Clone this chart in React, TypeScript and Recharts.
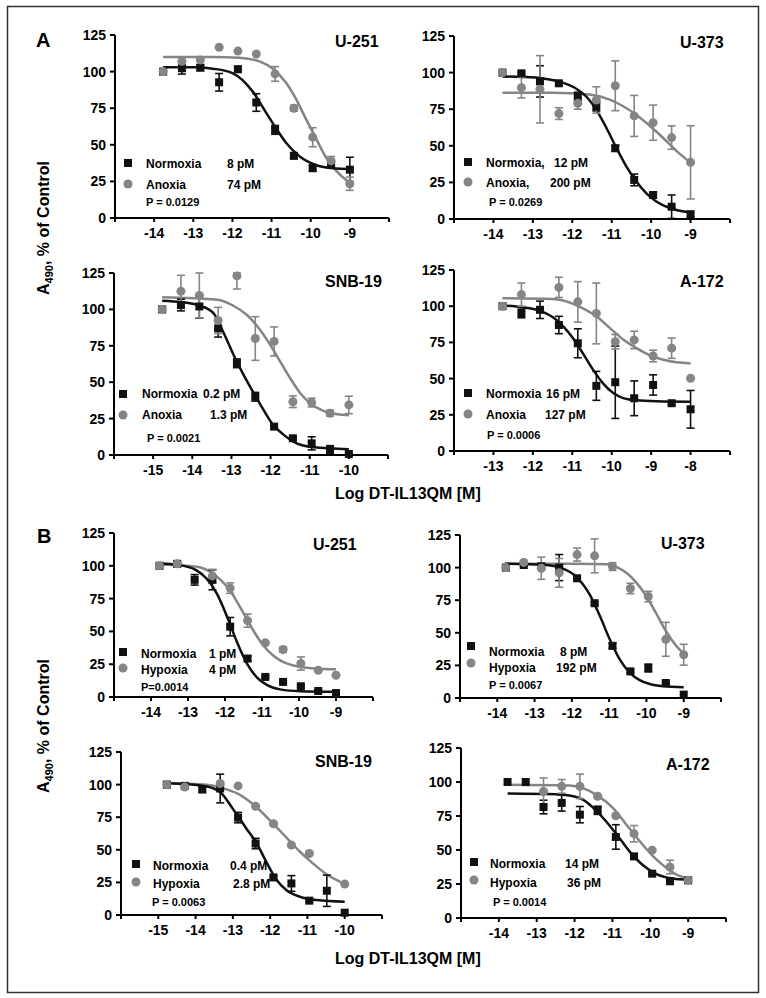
import React from 'react';
import { ComposedChart, Line, Scatter, XAxis, YAxis, ErrorBar } from 'recharts';

const FONT = '"Liberation Sans", Arial, Helvetica, sans-serif';
const BLACK = '#111111';
const GRAY = '#858585';

// ---------- doses (log M) ----------
const dosesU = [-13.77, -13.29, -12.82, -12.34, -11.86, -11.39, -10.91, -10.43, -9.95, -9.48, -9.0];
const dosesSNB = [-14.77, -14.29, -13.82, -13.34, -12.86, -12.39, -11.91, -11.43, -10.95, -10.48, -10.0];
const dosesA172A = [-12.77, -12.29, -11.82, -11.34, -10.86, -10.39, -9.91, -9.43, -8.95, -8.48, -8.0];

const yTicks = [0, 25, 50, 75, 100, 125];

// ---------- A : U-251 ----------
const aU251_norm = [100, 102.3, 102.7, 92.7, 101.6, 78.9, 60.2, 42.5, 34, 37, 33];
const aU251_normErr = [0, 4, 2, 6, 2, 6, 3, 2, 2, 2, 8.5];
const aU251_oth = [100, 107, 108, 116.6, 114, 112, 98.4, 75, 55.2, 39, 23.4];
const aU251_othErr = [0, 0, 0, 0, 0, 0, 5, 2, 6.5, 3, 4.5];
const aU251_normFitX = [-13.77, -13, -12.5, -12, -11.5, -11.14, -10.88, -10.62, -10.28, -9.85, -9.43, -9];
const aU251_normFitY = [103, 103, 102, 99, 87, 72, 61, 51, 42, 36, 34, 33.5];
const aU251_othFitX = [-13.77, -12.5, -11.82, -11.31, -10.97, -10.62, -10.37, -10.11, -9.85, -9.6, -9.34, -9];
const aU251_othFitY = [110, 110, 109.5, 107, 102, 92, 81, 67, 53.5, 41, 32, 24];

// ---------- A : U-373 ----------
const aU373_norm = [100, 99.5, 94, 92.7, 83.6, 76.8, 48.3, 26.7, 16.4, 8.4, 3.2];
const aU373_normErr = [0, 1, 10.7, 1, 3, 3, 2, 4, 2, 8, 2];
const aU373_oth = [100, 89.7, 88.6, 72, 79, 81.3, 91, 70.4, 65.8, 55.6, 38.7];
const aU373_othErr = [0, 7, 23, 4, 4, 9, 17, 14, 12, 8, 25];
const aU373_normFitX = [-13.77, -13.25, -12.74, -12.23, -11.9, -11.64, -11.39, -11.13, -10.88, -10.63, -10.37, -10.12, -9.87, -9.53, -9];
const aU373_normFitY = [97.3, 97, 96, 93, 89, 83.5, 74.5, 62, 48.5, 36, 25.5, 17.5, 12, 7.5, 4.5];
const aU373_othFitX = [-13.77, -12.5, -11.56, -11.05, -10.71, -10.37, -10.03, -9.7, -9.36, -9];
const aU373_othFitY = [86.3, 86.3, 85, 81.5, 77, 71, 63.5, 55.5, 46.5, 38.5];

// ---------- A : SNB-19 ----------
const aSNB_norm = [100, 103, 102, 87, 63, 40, 19.5, 11.5, 8, 3.4, 0.7];
const aSNB_normErr = [0, 4, 8, 6, 3, 3, 1, 1, 4.5, 3, 0.5];
const aSNB_oth = [100, 112.4, 109.6, 92.4, 123, 80, 78, 36.6, 36, 28.7, 34.4];
const aSNB_othErr: (number | number[])[] = [0, 11, 15.4, 9, [9, 2], 15, 10, 4, 3, 2, 6];
const aSNB_normFitX = [-14.77, -14.27, -13.8, -13.46, -13.2, -12.95, -12.69, -12.44, -12.18, -11.93, -11.67, -11.42, -10.9, -10];
const aSNB_normFitY = [106, 105, 102.5, 97.5, 84, 69, 55, 43, 31, 20.5, 14, 9.2, 5.3, 4];
const aSNB_othFitX = [-14.77, -13.37, -12.95, -12.61, -12.27, -12.01, -11.75, -11.5, -11.24, -10.99, -10.65, -10.3, -10];
const aSNB_othFitY = [108.3, 106.6, 102.5, 96.3, 86, 75.7, 64, 52.8, 42.4, 35.6, 30.3, 28, 27.3];

// ---------- A : A-172 ----------
const aA172_norm = [100, 95, 97.5, 87, 74.4, 45, 47.5, 36.4, 45.6, 33, 28.8];
const aA172_normErr = [0, 3, 6, 6, 10, 10, 25, 12, 7, 1, 13];
const aA172_oth = [100, 108, null, 113, 103, 95, 75.5, 76.7, 65.6, 71, 50.2];
const aA172_othErr = [0, 8, 0, 7, 14, 21, 5, 6, 4, 7, 0];
const aA172_normFitX = [-12.77, -12.27, -11.76, -11.49, -11.23, -10.98, -10.73, -10.47, -10.22, -9.96, -9.71, -9.37, -8.87, -8];
const aA172_normFitY = [100.5, 99.3, 96.3, 92.3, 86, 77.8, 67.4, 56, 46.7, 40, 36.5, 35, 34.3, 34];
const aA172_othFitX = [-12.77, -11.5, -11.23, -10.73, -10.39, -10.05, -9.71, -9.37, -9.03, -8.61, -8];
const aA172_othFitY = [105.5, 105, 104, 98.5, 93, 85, 77, 71, 66, 62.5, 60.5];

// ---------- B : U-251 ----------
const bU251_norm = [100, 101.5, 89.3, 89.3, 53.6, 29.3, 15.3, 11.5, 8.2, 4.6, 3];
const bU251_normErr = [0, 1, 4, 7.6, 7, 2, 1, 1, 1, 1, 1];
const bU251_oth = [100, 101.5, null, 92.3, 83, 58.2, 41.3, 36.2, 25.5, 20.4, 16.6];
const bU251_othErr = [0, 0, 0, 5, 4, 5, 1, 2, 5, 1, 0];
const bU251_normFitX = [-13.77, -13.26, -12.77, -12.5, -12.22, -11.95, -11.68, -11.41, -11.14, -10.87, -10.51, -9.97, -9];
const bU251_normFitY = [101.7, 100.7, 96.5, 90.3, 78.8, 61.7, 42.1, 25.7, 15, 9.2, 5.8, 4.4, 4];
const bU251_othFitX = [-13.77, -12.77, -12.32, -11.86, -11.5, -11.23, -10.96, -10.69, -10.42, -10.15, -9.79, -9.43, -9];
const bU251_othFitY = [101, 99.3, 94, 81, 64, 50.5, 39, 31.5, 26.5, 24, 22.3, 21.6, 21.2];

// ---------- B : U-373 ----------
const bU373_norm = [100, 102, 101, 100, 91.8, 72.7, 40, 20.4, 23, 11.5, 2.6];
const bU373_normErr = [0, 1, 0, 10, 1, 1, 2, 1, 3, 1, 0];
const bU373_oth = [100, 104, 99.5, 96, 110, 109, 100.8, 84, 77.8, 45, 33.2];
const bU373_othErr = [0, 1, 8.5, 11, 5, 13, 3, 4, 4, 13, 8];
const bU373_normFitX = [-13.8, -12.77, -12.24, -11.88, -11.52, -11.25, -10.99, -10.72, -10.45, -10.18, -9.91, -9.56, -9];
const bU373_normFitY = [103, 102.2, 99.2, 92.9, 79.2, 63, 45.4, 29.8, 19.5, 13.7, 10.7, 9, 8.2];
const bU373_othFitX = [-13.8, -12, -10.99, -10.81, -10.54, -10.27, -10, -9.74, -9.47, -9.2, -9];
const bU373_othFitY = [103, 103, 102.5, 100.5, 96, 88.5, 78, 65, 51, 40, 34];

// ---------- B : SNB-19 ----------
const bSNB_norm = [100, 99, 96.2, 97, 74.7, 54.8, 28.8, 24.2, 11, 18.6, 1.8];
const bSNB_normErr = [0, 0, 2, 11, 4, 4, 1, 6, 1, 12, 0];
const bSNB_oth = [100, 98.2, null, 100.8, 99, 83.4, 70, 53.6, 47.2, null, 23.7];
const bSNB_othErr = [0, 0, 0, 1, 0, 1, 1, 1, 1, 0, 0];
const bSNB_normFitX = [-14.77, -13.77, -13.35, -12.99, -12.63, -12.36, -12.09, -11.83, -11.56, -11.2, -10.75, -10];
const bSNB_normFitY = [101, 99, 94.5, 81, 66, 55, 40, 27, 19, 14, 11.5, 10.2];
const bSNB_othFitX = [-14.77, -13.77, -13.3, -12.87, -12.38, -11.87, -11.55, -11.2, -10.87, -10.5, -10.2, -10];
const bSNB_othFitY = [101, 100, 97.5, 93, 83, 68.5, 59, 48.5, 40, 31.5, 26.5, 24];

// ---------- B : A-172 ----------
const bA172_norm = [100, 100, 81.6, 84.6, 76, 79.2, 59.6, 45.3, 32.6, 27, 27.7];
const bA172_normErr = [0, 0, 5, 6, 6, 3, 9, 1, 1, 1, 1];
const bA172_oth = [null, null, 93, 96.8, 96.8, 89.5, 75.2, 62, 49.8, 37.5, 27.7];
const bA172_othErr = [0, 0, 10, 5, 9, 1, 1, 6, 1, 5, 0];
const bA172_normFitX = [-13.77, -12.5, -12.13, -11.78, -11.43, -10.9, -10.55, -10.2, -9.85, -9.41, -9];
const bA172_normFitY = [91.5, 91, 90, 87, 79, 62, 49, 39, 32.5, 29, 28];
const bA172_othFitX = [-13.77, -12.13, -11.78, -11.39, -10.99, -10.64, -10.28, -9.93, -9.58, -9.23, -9];
const bA172_othFitY = [98, 97.5, 95.5, 90, 81, 69, 56.5, 45.5, 37, 31, 29];

type Err = number | number[];
type PanelDef = {
  L: number; R: number; T: number; B: number; xLo: number; xHi: number;
  doses: number[];
  norm: (number | null)[]; normErr: Err[];
  oth: (number | null)[]; othErr: Err[];
  nfx: number[]; nfy: number[]; ofx: number[]; ofy: number[];
};

const panels: PanelDef[] = [
  { L: 115, R: 389, T: 35, B: 218, xLo: -15, xHi: -8, doses: dosesU, norm: aU251_norm, normErr: aU251_normErr, oth: aU251_oth, othErr: aU251_othErr, nfx: aU251_normFitX, nfy: aU251_normFitY, ofx: aU251_othFitX, ofy: aU251_othFitY },
  { L: 454, R: 730, T: 36, B: 219, xLo: -15, xHi: -8, doses: dosesU, norm: aU373_norm, normErr: aU373_normErr, oth: aU373_oth, othErr: aU373_othErr, nfx: aU373_normFitX, nfy: aU373_normFitY, ofx: aU373_othFitX, ofy: aU373_othFitY },
  { L: 114, R: 388, T: 273, B: 455, xLo: -16, xHi: -9, doses: dosesSNB, norm: aSNB_norm, normErr: aSNB_normErr, oth: aSNB_oth, othErr: aSNB_othErr, nfx: aSNB_normFitX, nfy: aSNB_normFitY, ofx: aSNB_othFitX, ofy: aSNB_othFitY },
  { L: 454, R: 730, T: 270, B: 451, xLo: -14, xHi: -7, doses: dosesA172A, norm: aA172_norm, normErr: aA172_normErr, oth: aA172_oth, othErr: aA172_othErr, nfx: aA172_normFitX, nfy: aA172_normFitY, ofx: aA172_othFitX, ofy: aA172_othFitY },
  { L: 114, R: 373, T: 533, B: 697, xLo: -15, xHi: -8, doses: dosesU, norm: bU251_norm, normErr: bU251_normErr, oth: bU251_oth, othErr: bU251_othErr, nfx: bU251_normFitX, nfy: bU251_normFitY, ofx: bU251_othFitX, ofy: bU251_othFitY },
  { L: 460, R: 721, T: 535, B: 698, xLo: -15, xHi: -8, doses: dosesU, norm: bU373_norm, normErr: bU373_normErr, oth: bU373_oth, othErr: bU373_othErr, nfx: bU373_normFitX, nfy: bU373_normFitY, ofx: bU373_othFitX, ofy: bU373_othFitY },
  { L: 121, R: 382, T: 752, B: 915, xLo: -16, xHi: -9, doses: dosesSNB, norm: bSNB_norm, normErr: bSNB_normErr, oth: bSNB_oth, othErr: bSNB_othErr, nfx: bSNB_normFitX, nfy: bSNB_normFitY, ofx: bSNB_othFitX, ofy: bSNB_othFitY },
  { L: 461, R: 726, T: 748, B: 918, xLo: -15, xHi: -8, doses: dosesU, norm: bA172_norm, normErr: bA172_normErr, oth: bA172_oth, othErr: bA172_othErr, nfx: bA172_normFitX, nfy: bA172_normFitY, ofx: bA172_othFitX, ofy: bA172_othFitY },
];

function toPoints(doses: number[], vals: (number | null)[], errs: Err[]) {
  const out: any[] = [];
  doses.forEach((x, i) => {
    const y = vals[i];
    if (y == null) return;
    const e = errs[i];
    const has = Array.isArray(e) ? true : e > 0;
    out.push({ x, y, err: has ? e : undefined });
  });
  return out;
}
function toCurve(xs: number[], ys: number[]) {
  return xs.map((x, i) => ({ x, y: ys[i] }));
}

const SquareDot = (p: any) => {
  if (p.cx == null || p.cy == null) return <g />;
  return <rect x={p.cx - 4} y={p.cy - 4} width={8} height={8} fill={BLACK} />;
};
const CircleDot = (p: any) => {
  if (p.cx == null || p.cy == null) return <g />;
  return <circle cx={p.cx} cy={p.cy} r={4.5} fill={GRAY} />;
};

const ML = 60, MR = 10, MT = 10, MB = 30;
const tickStyle = { fill: '#000', fontSize: 14, fontWeight: 'bold' as const, fontFamily: FONT };

function Panel({ d }: { d: PanelDef }) {
  const width = d.R - d.L + ML + MR;
  const height = d.B - d.T + MT + MB;
  const xTicks: number[] = [];
  for (let v = d.xLo; v <= d.xHi; v++) xTicks.push(v);
  const nPts = toPoints(d.doses, d.norm, d.normErr);
  const oPts = toPoints(d.doses, d.oth, d.othErr);
  const nFit = toCurve(d.nfx, d.nfy);
  const oFit = toCurve(d.ofx, d.ofy);
  return (
    <div style={{ position: 'absolute', left: d.L - ML, top: d.T - MT }}>
      <ComposedChart width={width} height={height} margin={{ top: MT, right: MR, bottom: 0, left: 0 }}>
        <XAxis
          type="number"
          dataKey="x"
          domain={[d.xLo, d.xHi]}
          ticks={xTicks}
          interval={0}
          height={MB}
          tickFormatter={(v: number) => (v === d.xLo || v === d.xHi ? '' : String(v))}
          axisLine={{ stroke: '#000', strokeWidth: 2 }}
          tickLine={{ stroke: '#000', strokeWidth: 2 }}
          tickSize={4}
          tickMargin={6}
          tick={tickStyle}
        />
        <YAxis
          type="number"
          dataKey="y"
          domain={[0, 125]}
          ticks={yTicks}
          interval={0}
          width={ML}
          axisLine={{ stroke: '#000', strokeWidth: 2 }}
          tickLine={{ stroke: '#000', strokeWidth: 2 }}
          tickSize={5}
          tickMargin={4}
          tick={tickStyle}
        />
        <Line data={oFit} dataKey="y" type="monotone" stroke={GRAY} strokeWidth={2.5} dot={false} activeDot={false} isAnimationActive={false} />
        <Line data={nFit} dataKey="y" type="monotone" stroke={BLACK} strokeWidth={2.5} dot={false} activeDot={false} isAnimationActive={false} />
        <Scatter data={nPts} dataKey="y" shape={SquareDot} isAnimationActive={false}>
          <ErrorBar dataKey="err" direction="y" width={4} stroke={BLACK} strokeWidth={1.6} isAnimationActive={false} />
        </Scatter>
        <Scatter data={oPts} dataKey="y" shape={CircleDot} isAnimationActive={false}>
          <ErrorBar dataKey="err" direction="y" width={4} stroke={GRAY} strokeWidth={1.6} isAnimationActive={false} />
        </Scatter>
      </ComposedChart>
    </div>
  );
}

type LegendDef = {
  sx: number; sy1: number; sy2: number; tx: number; b1: number; b2: number;
  l1: string; v1: string; v1x: number; l2: string; v2: string; v2x: number;
  px: number; pb: number; p: string;
};

const legends: LegendDef[] = [
  { sx: 128, sy1: 163, sy2: 184, tx: 146, b1: 168, b2: 189, l1: 'Normoxia', v1: '8 pM', v1x: 227, l2: 'Anoxia', v2: '74 pM', v2x: 227, px: 146, pb: 206, p: 'P = 0.0129' },
  { sx: 468, sy1: 162, sy2: 182, tx: 486, b1: 167, b2: 187, l1: 'Normoxia,', v1: '12 pM', v1x: 554, l2: 'Anoxia,', v2: '200 pM', v2x: 550, px: 489, pb: 206, p: 'P = 0.0269' },
  { sx: 123, sy1: 394, sy2: 415, tx: 142, b1: 398, b2: 419, l1: 'Normoxia', v1: '0.2 pM', v1x: 203, l2: 'Anoxia', v2: '1.3 pM', v2x: 210, px: 147, pb: 442, p: 'P = 0.0021' },
  { sx: 468, sy1: 393, sy2: 414, tx: 486, b1: 398, b2: 419, l1: 'Normoxia', v1: '16 pM', v1x: 546, l2: 'Anoxia', v2: '127 pM', v2x: 545, px: 487, pb: 439, p: 'P = 0.0006' },
  { sx: 123, sy1: 652, sy2: 668, tx: 141, b1: 658, b2: 674, l1: 'Normoxia', v1: '1 pM', v1x: 209, l2: 'Hypoxia', v2: '4 pM', v2x: 209, px: 141, pb: 691, p: 'P=0.0014' },
  { sx: 471, sy1: 646, sy2: 663, tx: 489, b1: 656, b2: 672, l1: 'Normoxia', v1: '8 pM', v1x: 560, l2: 'Hypoxia', v2: '192 pM', v2x: 556, px: 489, pb: 689, p: 'P = 0.0067' },
  { sx: 136, sy1: 864, sy2: 882, tx: 153, b1: 870, b2: 888, l1: 'Normoxia', v1: '0.4 pM', v1x: 230, l2: 'Hypoxia', v2: '2.8 pM', v2x: 233, px: 152, pb: 906, p: 'P = 0.0063' },
  { sx: 474, sy1: 862, sy2: 880, tx: 490, b1: 868, b2: 887, l1: 'Normoxia', v1: '14 pM', v1x: 565, l2: 'Hypoxia', v2: '36 pM', v2x: 567, px: 493, pb: 906, p: 'P = 0.0014' },
];

const titles = [
  { x: 335, y: 47, s: 'U-251' },
  { x: 680, y: 48, s: 'U-373' },
  { x: 325, y: 287, s: 'SNB-19' },
  { x: 680, y: 287, s: 'A-172' },
  { x: 313, y: 550, s: 'U-251' },
  { x: 661, y: 549, s: 'U-373' },
  { x: 315, y: 767, s: 'SNB-19' },
  { x: 666, y: 770, s: 'A-172' },
];

function Overlay() {
  return (
    <svg width={766} height={998} style={{ position: 'absolute', left: 0, top: 0, pointerEvents: 'none' }} fontFamily={FONT} fontWeight="bold">
      <rect x={7.5} y={6.5} width={751} height={986} fill="none" stroke="#333" strokeWidth={1.5} />
      <text x={36} y={47} fontSize={20} fill="#000">A</text>
      <text x={37} y={543} fontSize={20} fill="#000">B</text>
      {[228, 726].map((cy) => (
        <text key={cy} transform={`translate(49,${cy}) rotate(-90)`} textAnchor="middle" fontSize={16} fill="#000">
          A<tspan fontSize={11} dy={4}>490</tspan><tspan dy={-4}>, % of Control</tspan>
        </text>
      ))}
      <text x={335} y={499} fontSize={16} fill="#000">Log DT-IL13QM [M]</text>
      <text x={335} y={964} fontSize={16} fill="#000">Log DT-IL13QM [M]</text>
      {titles.map((t, i) => (
        <text key={i} x={t.x} y={t.y} fontSize={16} fill="#000">{t.s}</text>
      ))}
      {legends.map((g, i) => (
        <g key={i} fill="#000">
          <rect x={g.sx - 4} y={g.sy1 - 4} width={8} height={8} fill={BLACK} />
          <circle cx={g.sx} cy={g.sy2} r={4.5} fill={GRAY} />
          <text x={g.tx} y={g.b1} fontSize={12}>{g.l1}</text>
          <text x={g.v1x} y={g.b1} fontSize={12}>{g.v1}</text>
          <text x={g.tx} y={g.b2} fontSize={12}>{g.l2}</text>
          <text x={g.v2x} y={g.b2} fontSize={12}>{g.v2}</text>
          <text x={g.px} y={g.pb} fontSize={11}>{g.p}</text>
        </g>
      ))}
    </svg>
  );
}

export default function App() {
  return (
    <div style={{ position: 'absolute', left: 0, top: 0, width: 766, height: 998, background: '#fff', fontFamily: FONT }}>
      {panels.map((d, i) => (
        <Panel key={i} d={d} />
      ))}
      <Overlay />
    </div>
  );
}
